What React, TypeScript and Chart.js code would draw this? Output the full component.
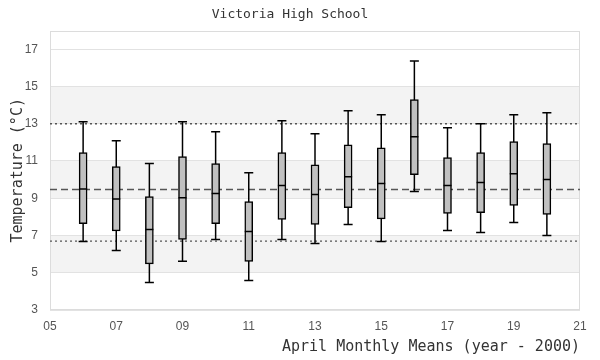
import React, { useEffect, useRef } from 'react';
import { Chart, registerables } from 'chart.js';

Chart.register(...registerables);

// ---- Data ----
const years = [6, 7, 8, 9, 10, 11, 12, 13, 14, 15, 16, 17, 18, 19, 20];
const whiskerLow = [6.68, 6.2, 4.48, 5.62, 6.79, 4.59, 6.79, 6.57, 7.59, 6.68, 9.36, 7.27, 7.16, 7.7, 7.0];
const quartile1 = [7.64, 7.25, 5.48, 6.79, 7.64, 5.61, 7.86, 7.59, 8.5, 7.89, 10.27, 8.18, 8.23, 8.61, 8.13];
const medians = [9.5, 8.96, 7.32, 9.03, 9.25, 7.21, 9.68, 9.2, 10.16, 9.79, 12.3, 9.68, 9.84, 10.32, 10.0];
const quartile3 = [11.45, 10.7, 9.09, 11.23, 10.86, 8.82, 11.45, 10.8, 11.87, 11.71, 14.29, 11.18, 11.45, 12.04, 11.93];
const whiskerHigh = [13.1, 12.09, 10.86, 13.1, 12.57, 10.37, 13.16, 12.46, 13.7, 13.48, 16.37, 12.79, 13.0, 13.48, 13.59];

const refDottedLevels = [13.0, 6.7];
const refDashedLevel = 9.47;

const xTickValues = [5, 7, 9, 11, 13, 15, 17, 19, 21];
const xTickLabels = ['05', '07', '09', '11', '13', '15', '17', '19', '21'];
const yTickValues = [3, 5, 7, 9, 11, 13, 15, 17];
const bandRanges = [[5, 7], [9, 11], [13, 15]];
const xRange = [5, 21];
const yRange = [3, 18];

const titleText = 'Victoria High School';
const xTitle = 'April Monthly Means (year - 2000)';
const yTitle = 'Temperature (°C)';

const MONO = "'DejaVu Sans Mono', monospace";
const SANS = "'Liberation Sans', Arial, sans-serif";

const backgroundPlugin = {
  id: 'bgBands',
  beforeDraw(chart: any) {
    const { ctx, chartArea, scales } = chart;
    const y = scales.y;
    ctx.save();
    ctx.fillStyle = '#f3f3f3';
    for (const [lo, hi] of bandRanges) {
      const top = y.getPixelForValue(hi);
      const bottom = y.getPixelForValue(lo);
      ctx.fillRect(chartArea.left, top, chartArea.right - chartArea.left, bottom - top);
    }
    ctx.restore();
  },
  beforeDatasetsDraw(chart: any) {
    const { ctx, chartArea } = chart;
    ctx.save();
    ctx.strokeStyle = '#dcdcdc';
    ctx.lineWidth = 1;
    ctx.strokeRect(
      Math.round(chartArea.left) + 0.5,
      Math.round(chartArea.top) + 0.5,
      Math.round(chartArea.right - chartArea.left) - 1,
      Math.round(chartArea.bottom - chartArea.top) - 1
    );
    ctx.restore();
  },
};

export default function App() {
  const canvasRef = useRef<HTMLCanvasElement | null>(null);

  useEffect(() => {
    const canvas = canvasRef.current;
    if (!canvas) return;

    const whiskerData: any[] = [];
    years.forEach((yr, i) => {
      whiskerData.push({ x: yr, y: whiskerLow[i] });
      whiskerData.push({ x: yr, y: whiskerHigh[i] });
      whiskerData.push({ x: yr, y: null });
    });
    const capData: any[] = [];
    years.forEach((yr, i) => {
      capData.push({ x: yr, y: whiskerLow[i] });
      capData.push({ x: yr, y: whiskerHigh[i] });
    });

    const refLine = (level: number, dash: number[]) => ({
      type: 'line',
      data: [
        { x: xRange[0], y: level },
        { x: xRange[1], y: level },
      ],
      borderColor: '#555',
      borderWidth: 1.3,
      borderDash: dash,
      pointRadius: 0,
      showLine: true,
      order: 5,
    });

    const chart = new Chart(canvas, {
      type: 'scatter',
      data: {
        datasets: [
          ...refDottedLevels.map((l) => refLine(l, [2, 3])),
          refLine(refDashedLevel, [7, 4]),
          {
            type: 'line',
            data: whiskerData,
            borderColor: '#000',
            borderWidth: 1.5,
            pointRadius: 0,
            showLine: true,
            spanGaps: false,
            order: 4,
          },
          {
            type: 'bar',
            data: years.map((yr, i) => ({ x: yr, y: [quartile1[i], quartile3[i]] })),
            backgroundColor: '#c0c0c0',
            borderColor: '#000',
            borderWidth: 1.5,
            borderSkipped: false,
            barThickness: 8,
            order: 3,
          },
          {
            type: 'scatter',
            data: years.map((yr, i) => ({ x: yr, y: medians[i] })),
            pointStyle: 'line',
            pointRadius: 4,
            pointBorderWidth: 1.5,
            pointBorderColor: '#000',
            pointBackgroundColor: '#000',
            order: 2,
          },
          {
            type: 'scatter',
            data: capData,
            pointStyle: 'line',
            pointRadius: 4.5,
            pointBorderWidth: 1.5,
            pointBorderColor: '#000',
            pointBackgroundColor: '#000',
            order: 1,
          },
        ] as any,
      },
      options: {
        animation: false,
        responsive: true,
        maintainAspectRatio: false,
        events: [],
        layout: { padding: { left: 0, right: 20, top: 0, bottom: 0 } },
        plugins: {
          legend: { display: false },
          tooltip: { enabled: false },
          title: {
            display: true,
            text: titleText,
            color: '#333',
            font: { family: MONO, size: 13, weight: 'normal' },
            padding: { top: 7, bottom: 8 },
          },
        },
        scales: {
          x: {
            type: 'linear',
            min: xRange[0],
            max: xRange[1],
            offset: false,
            afterBuildTicks: (scale: any) => {
              scale.ticks = xTickValues.map((v) => ({ value: v }));
            },
            afterFit: (scale: any) => {
              scale.height = 50;
            },
            grid: { display: false, drawTicks: false },
            border: { display: false },
            ticks: {
              padding: 9,
              color: '#555',
              font: { family: SANS, size: 12 },
              maxRotation: 0,
              autoSkip: false,
              callback: (v: any) => {
                const idx = xTickValues.indexOf(Number(v));
                return idx >= 0 ? xTickLabels[idx] : '';
              },
            },
            title: {
              display: true,
              text: xTitle,
              align: 'end',
              color: '#333',
              font: { family: MONO, size: 15 },
              padding: { top: 0, bottom: 4 },
            },
          },
          y: {
            type: 'linear',
            min: yRange[0],
            max: yRange[1],
            afterBuildTicks: (scale: any) => {
              scale.ticks = yTickValues.map((v) => ({ value: v }));
            },
            afterFit: (scale: any) => {
              scale.width = 50;
            },
            grid: { color: '#e2e2e2', drawTicks: false, lineWidth: 1 },
            border: { display: false },
            ticks: {
              padding: 12,
              color: '#555',
              font: { family: SANS, size: 12 },
              autoSkip: false,
            },
            title: {
              display: true,
              text: yTitle,
              color: '#333',
              font: { family: MONO, size: 15 },
              padding: { top: 9, bottom: 0 },
            },
          },
        },
      } as any,
      plugins: [backgroundPlugin],
    });

    return () => {
      chart.destroy();
    };
  }, []);

  return (
    <div style={{ position: 'fixed', left: 0, top: 0, width: 600, height: 360, background: '#fff' }}>
      <canvas ref={canvasRef} />
    </div>
  );
}
